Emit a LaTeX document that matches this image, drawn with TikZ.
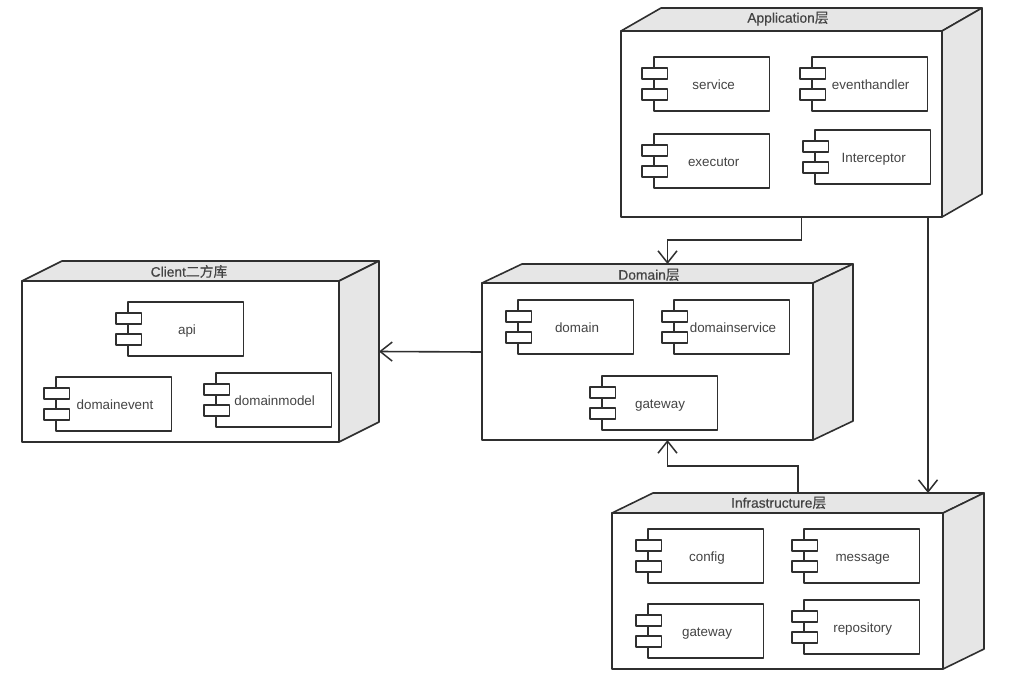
\documentclass[tikz,border=0pt]{standalone}
\usepackage{fontspec}
\setmainfont{Liberation Sans}
\newfontfamily\ttlfont[FakeBold=0.5]{Liberation Sans}
\newfontfamily\ttlcjk[FakeBold=0.4]{Noto Sans CJK SC}
\usetikzlibrary{arrows.meta,fit}
\definecolor{ink}{HTML}{2F2F2F}
\definecolor{side}{HTML}{E6E6E6}
\definecolor{txt}{HTML}{444444}
\tikzset{
  x=1pt,y=-1pt,
  edge/.style={draw=ink,line width=1.6pt,line join=round},
  face/.style={edge,fill=white},
  sideface/.style={edge,fill=side},
  frame/.style={inner sep=0pt,outer sep=0pt},
  compbody/.style={face,inner sep=0pt,outer sep=0pt,minimum width=115.5pt,minimum height=54pt,anchor=north west},
  comptab/.style={face,inner sep=0pt,outer sep=0pt,minimum width=25.5pt,minimum height=11pt,anchor=north west},
  lab/.style={inner sep=0pt,text=txt,text height=9.4pt,text depth=0pt,font=\fontsize{13.4}{15}\selectfont},
  ttl/.style={inner sep=0pt,text=ink!90,text height=9.4pt,text depth=0pt,font=\ttlfont\fontsize{13.8}{15}\selectfont},
  link/.style={draw=ink,line width=1.6pt,-{Straight Barb[length=12pt,width=19pt,line width=1.5pt]}},
}
% name, front x0,y0,x1,y1, back right x, back top y
\newcommand{\deploybox}[7]{%
  \path[sideface] (#2,#3) -- (#2+#6-#4,#7) -- (#6,#7) -- (#4,#3) -- cycle;
  \path[sideface] (#4,#3) -- (#6,#7) -- (#6,#5+#7-#3) -- (#4,#5) -- cycle;
  \path[face] (#2,#3) rectangle (#4,#5);
  \coordinate (#1-a) at (#2,#7);
  \coordinate (#1-b) at (#6,#5);
  \node[frame,fit=(#1-a)(#1-b)] (#1) {};
}
% name, x, y, label x, text
\newcommand{\comp}[5]{%
  \node[compbody] (#1) at (#2,#3) {};
  \draw[edge] (#1.north west) -- (#1.south west);
  \node[comptab] (#1-t1) at ([shift={(-12,11)}]#1.north west) {};
  \node[comptab] (#1-t2) at ([shift={(-12,32)}]#1.north west) {};
  \node[lab] (#1-l) at ([shift={(0,27.7)}]#4,#3) {#5};
}
\begin{document}
\begin{tikzpicture}
\useasboundingbox (0,0) rectangle (1024,680);
\fill[white] (0,0) rectangle (1024,680);

\deploybox{app}{621}{31}{942}{217}{982}{8}
\deploybox{cli}{22}{281}{339}{442}{379}{261}
\deploybox{dom}{482}{283}{813}{440}{853}{264}
\deploybox{inf}{612}{513}{943}{669}{984}{493}

\node[ttl] (appt) at (788,18) {Application{\ttlcjk 层}};
\node[ttl] (clit) at (189,272) {Client{\ttlcjk 二方库}};
\node[ttl] (domt) at (649,275) {Domain{\ttlcjk 层}};
\node[ttl] (inft) at (778.7,503) {Infrastructure{\ttlcjk 层}};

\comp{service}{654}{57}{713.7}{service}
\comp{eventhandler}{812}{57}{870.7}{eventhandler}
\comp{executor}{654}{134}{713.7}{executor}
\comp{interceptor}{815}{130}{873.7}{Interceptor}

\comp{api}{128}{302}{187}{api}
\comp{domainevent}{56}{377}{115}{domainevent}
\comp{domainmodel}{216}{373}{274.7}{domainmodel}

\comp{domain}{518}{300}{577}{domain}
\comp{domainservice}{674}{300}{733}{domainservice}
\comp{gatewayd}{602}{376}{660}{gateway}

\comp{config}{648}{529}{707}{config}
\comp{message}{804}{529}{862.7}{message}
\comp{gatewayi}{648}{604}{707}{gateway}
\comp{repository}{804}{600}{862.7}{repository}

\draw[link] (app.south) -- ++(0,23) -| (dom.north);
\draw[link] ([xshift=126.5pt]app.south) -- ([xshift=130pt]inf.north);
\draw[link] (dom.west) -- (cli.east);
\draw[link] (inf.north) -- ++(0,-27) -| (dom.south);
\end{tikzpicture}
\end{document}
